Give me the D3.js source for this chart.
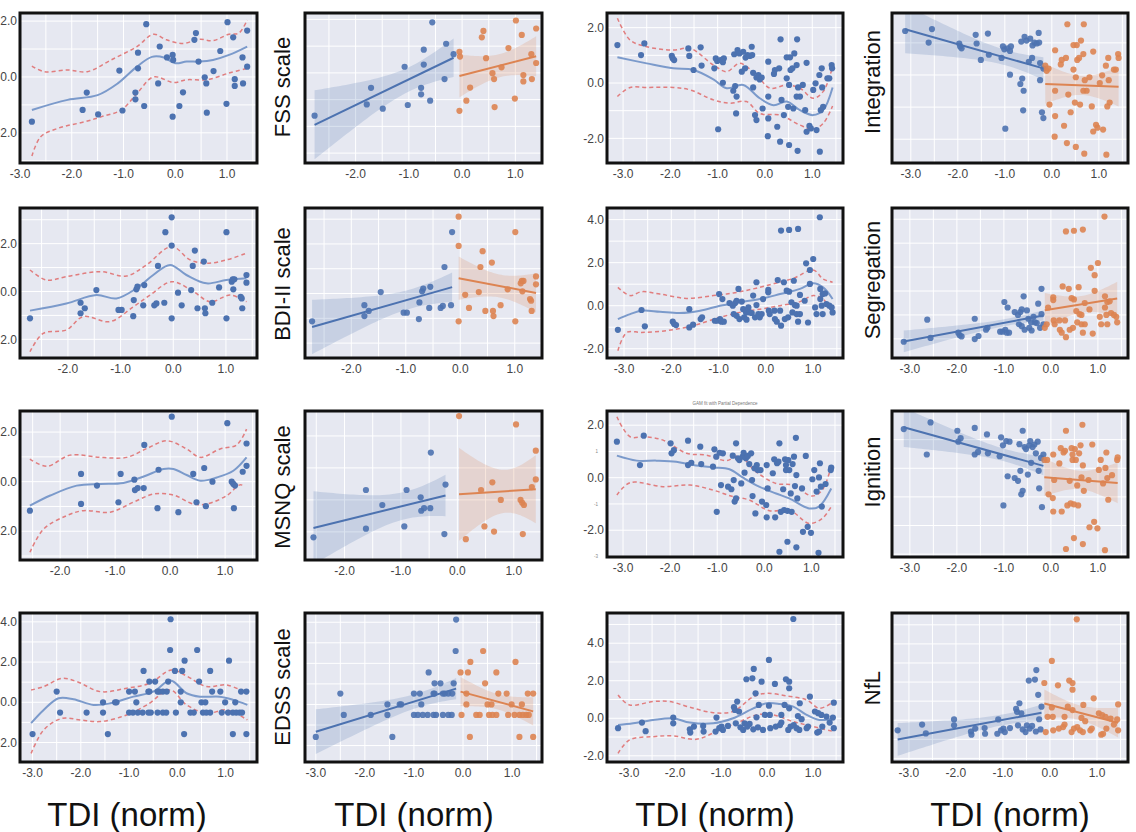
<!DOCTYPE html>
<html><head><meta charset="utf-8">
<script src="https://cdn.jsdelivr.net/npm/d3@7"></script>
<style>body{margin:0;background:#fff}svg{display:block}</style>
</head><body>
<svg id="c" width="1136" height="832"></svg>
<script>
// ---------------- DATA ----------------
const xTitle = "TDI (norm)";
const clinLabels = ["FSS scale","BDI-II scale","MSNQ scale","EDSS scale"];
const netLabels = ["Integration","Segregation","Ignition","NfL"];
const xTickVals = [-3,-2,-1,0,1];
const yTickVals = [-2,0,2,4];
const smallTitle = "GAM fit with Partial Dependence";
const smallTicks = ["1","-1","-3"];
const smallTickVals = [1,-1,-3];

const fss = [[-2.77,-1.6],[-1.79,-1.18],[-1.71,-0.56],[-1.49,-1.34],[-1.08,0.23],[-1.02,-1.2],[-0.77,-0.56],[-0.77,-0.8],[-0.72,0.87],[-0.72,0.31],[-0.6,-1.04],[-0.56,1.89],[-0.33,-0.23],[-0.3,1.09],[-0.16,0.7],[-0.05,0.79],[-0.04,0.61],[-0.05,-1.42],[0.08,-1.04],[0.15,-0.55],[0.37,1.33],[0.4,1.57],[0.45,0.55],[0.57,-0.01],[0.6,-0.23],[0.61,-1.28],[0.74,0.21],[0.87,0.93],[0.99,-0.96],[1.01,1.96],[1.12,1.42],[1.15,-0.08],[1.15,-0.32],[1.3,0.7],[1.31,-0.23],[1.39,1.66],[1.39,0.37]];
const fssFit = [[-2.77,-1.18],[-2.08,-0.82],[-1.5,-0.65],[-1.11,-0.23],[-0.74,0.37],[-0.45,0.72],[-0.22,0.7],[0,0.49],[0.22,0.55],[0.47,0.55],[0.73,0.61],[1.04,0.79],[1.39,1.09]];
const fssHi = [[-2.77,0.39],[-2.53,0.19],[-2.08,0.25],[-1.7,0.19],[-1.24,0.61],[-0.74,1.09],[-0.42,1.53],[-0.17,1.33],[0.15,1.2],[0.47,1.35],[0.73,1.3],[1.04,1.53],[1.23,1.57],[1.39,2.04]];
const fssLo = [[-2.77,-2.83],[-2.6,-2.14],[-2.27,-1.84],[-1.74,-1.6],[-1.42,-1.42],[-1.04,-1.18],[-0.74,-0.59],[-0.42,0],[-0.03,-0.2],[0.22,-0.1],[0.61,-0.1],[1.04,0.14],[1.39,0.31]];

const bdi = [[-2.72,-1.12],[-1.76,-0.47],[-1.76,-0.91],[-1.68,-0.7],[-1.46,0.06],[-1.04,-0.77],[-0.98,-0.77],[-0.76,-1.03],[-0.75,-0.36],[-0.7,0.09],[-0.68,0.2],[-0.57,-0.58],[-0.55,0.27],[-0.36,-0.58],[-0.32,-0.5],[-0.29,1.07],[-0.17,-0.47],[-0.15,2.48],[-0.03,3.1],[-0.03,1.92],[-0.03,-1.12],[0.09,-0.05],[0.16,-0.58],[0.34,0.06],[0.37,1.07],[0.41,1.71],[0.46,-0.7],[0.58,1.25],[0.6,-0.7],[0.61,-0.91],[0.74,-0.47],[0.87,0.17],[1.01,2.48],[1.01,-1.12],[1.11,0.41],[1.13,0.51],[1.16,0.51],[1.14,0.09],[1.28,-0.22],[1.3,-0.29],[1.31,-0.7],[1.39,0.69],[1.39,0.37]];
const bdiFit = [[-2.72,-0.8],[-2.03,-0.5],[-1.46,-0.15],[-1.08,-0.29],[-0.7,0.13],[-0.38,0.69],[-0.06,1.11],[0.25,0.69],[0.63,0.34],[1.01,0.48],[1.39,0.55]];
const bdiHi = [[-2.72,0.9],[-2.41,0.48],[-2.03,0.62],[-1.39,0.83],[-0.89,0.65],[-0.51,1.11],[-0.03,1.88],[0.32,1.32],[0.63,1.18],[1.01,1.32],[1.39,1.6]];
const bdiLo = [[-2.72,-2.52],[-2.47,-1.75],[-2.03,-1.61],[-1.71,-1.05],[-1.2,-1.26],[-0.76,-0.64],[-0.44,-0.15],[-0.03,0.41],[0.38,0],[0.7,-0.43],[1.08,-0.15],[1.39,-0.43]];

const msnq = [[-2.55,-1.17],[-1.62,0.31],[-1.62,-0.9],[-1.33,-0.16],[-0.94,-0.83],[-0.9,0.31],[-0.65,0.08],[-0.64,-0.34],[-0.59,-0.26],[-0.48,-0.26],[-0.47,1.48],[-0.23,-1.07],[-0.21,0.48],[0.03,2.62],[0.15,-1.23],[0.42,0.31],[0.48,-0.83],[0.62,0.55],[0.65,-0.99],[0.77,0],[1.04,2.36],[1.12,0],[1.15,-0.09],[1.18,-0.16],[1.16,-1.07],[1.32,0.4],[1.39,0.64],[1.39,1.54]];
const msnqFit = [[-2.55,-0.97],[-2.18,-0.56],[-1.7,-0.16],[-1.27,-0.09],[-0.85,-0.05],[-0.48,0.21],[-0.12,0.51],[0.06,0.51],[0.3,0.27],[0.55,0.04],[0.85,0.17],[1.15,0.44],[1.39,0.98]];
const msnqHi = [[-2.55,0.91],[-2.24,0.62],[-1.82,1.07],[-1.27,0.98],[-0.79,0.98],[-0.42,1.34],[-0.06,1.65],[0.3,1.32],[0.55,0.98],[0.91,1.32],[1.21,1.48],[1.39,2.12]];
const msnqLo = [[-2.55,-2.85],[-2.3,-1.91],[-1.88,-1.37],[-1.58,-1.17],[-1.09,-1.23],[-0.67,-0.83],[-0.3,-0.5],[0.06,-0.54],[0.42,-0.9],[0.67,-0.9],[1.03,-0.56],[1.27,-0.13],[1.36,-0.19]];

const edss = [[-3.0,-1.58],[-2.5,0.53],[-2.43,-0.51],[-1.88,-0.51],[-1.54,0],[-1.54,-0.51],[-1.44,-1.58],[-1.29,0],[-1.26,0],[-1.0,0.53],[-1.0,-0.51],[-0.92,-0.51],[-0.88,0.53],[-0.85,0],[-0.82,-0.51],[-0.72,-0.51],[-0.7,1.56],[-0.6,0.53],[-0.58,0.53],[-0.6,-0.51],[-0.58,1.03],[-0.55,-0.51],[-0.46,1.03],[-0.41,0.53],[-0.41,-0.51],[-0.37,0.53],[-0.3,0.53],[-0.3,-0.51],[-0.23,-0.51],[-0.22,0.53],[-0.19,1.03],[-0.14,4.13],[-0.15,2.6],[-0.05,1.56],[-0.03,-0.51],[0.07,0],[0.07,0.53],[0.1,1.56],[0.14,-1.58],[0.15,2.07],[0.27,-0.51],[0.34,-0.51],[0.41,2.6],[0.45,1.03],[0.5,0],[0.53,-0.51],[0.58,0],[0.6,-0.51],[0.68,-0.51],[0.68,1.56],[0.72,0.53],[0.89,0.53],[0.92,-0.51],[0.99,0],[1.05,-0.51],[1.07,2.07],[1.15,-0.51],[1.15,-1.58],[1.2,0],[1.22,-0.51],[1.29,-0.51],[1.32,0.53],[1.34,-0.51],[1.43,0.53],[1.43,-1.58]];
const edssFit = [[-3.03,-1.04],[-2.77,-0.38],[-2.46,0.2],[-2.15,0.15],[-1.74,-0.13],[-1.39,-0.05],[-0.91,0.28],[-0.5,0.53],[-0.14,1.08],[0.19,0.45],[0.47,0.28],[0.88,0.28],[1.16,0.12],[1.45,-0.13]];
const edssHi = [[-3.03,0.61],[-2.77,0.78],[-2.39,1.19],[-2.08,1.03],[-1.6,0.53],[-1.05,0.7],[-0.57,0.95],[-0.12,1.61],[0.19,1.31],[0.61,0.78],[1.02,0.86],[1.45,0.45]];
const edssLo = [[-3.03,-2.54],[-2.77,-1.38],[-2.39,-0.8],[-2.01,-0.88],[-1.6,-0.96],[-1.05,-0.63],[-0.63,-0.13],[-0.15,0.61],[0.19,-0.13],[0.61,-0.55],[1.02,-0.38],[1.45,-0.88]];

const integ = [[-3.12,1.37],[-2.62,1.01],[-2.55,1.43],[-1.97,0.98],[-1.95,0.89],[-1.92,0.83],[-1.62,1.25],[-1.6,0.98],[-1.51,0.47],[-1.36,1.29],[-1.34,0.63],[-1.07,0.53],[-1.04,0.89],[-1.01,0.8],[-0.94,0.83],[-0.89,0.75],[-0.87,0.89],[-0.99,-1.67],[-0.89,0.01],[-0.67,-0.28],[-0.65,1.04],[-0.63,-0.11],[-0.6,-0.49],[-0.61,-1.1],[-0.58,1.19],[-0.54,1.07],[-0.49,0.41],[-0.46,1.13],[-0.42,0.53],[-0.41,0.92],[-0.37,1.01],[-0.32,0.98],[-0.28,1.31],[-0.27,1.01],[-0.25,0.37],[-0.25,-0.16],[-0.21,-1.16],[-0.18,0.2],[-0.18,-1.34],[-0.14,0.29],[-0.11,0.13],[-0.07,0.2],[-0.05,-0.92],[0.07,0.77],[0.07,-0.49],[0.07,-1.28],[0.06,-1.92],[0.19,0.33],[0.21,0.47],[0.26,-1.58],[0.3,0.53],[0.32,-2.12],[0.33,1.58],[0.35,-0.61],[0.4,-1.16],[0.46,0.17],[0.46,0.93],[0.49,-0.86],[0.51,-2.24],[0.51,-0.07],[0.53,0.93],[0.54,0.47],[0.58,0.53],[0.6,-0.92],[0.62,1.07],[0.67,0.65],[0.67,-0.49],[0.68,1.58],[0.69,-2.45],[0.7,-0.16],[0.74,-0.49],[0.8,-0.07],[0.85,-0.98],[0.88,0.73],[0.88,-1.76],[0.94,-1.55],[0.97,-1.64],[1.02,-0.25],[1.07,-0.01],[1.09,-1.7],[1.15,0.29],[1.16,-2.48],[1.18,-0.98],[1.2,0.53],[1.21,-0.16],[1.23,-0.86],[1.32,0.17],[1.36,0.17],[1.41,0.65],[1.42,0.53]];
const integFit = [[-3.12,0.93],[-2.5,0.71],[-1.94,0.53],[-1.51,0.47],[-1.09,0.13],[-0.81,-0.19],[-0.46,-0.07],[-0.11,-0.55],[0.18,-0.8],[0.46,-0.67],[0.74,-0.98],[1.02,-1.16],[1.23,-0.98],[1.43,-0.16]];
const integHi = [[-3.12,2.34],[-2.85,1.55],[-2.5,1.31],[-1.94,1.19],[-1.58,1.25],[-1.09,0.65],[-0.81,0.41],[-0.53,0.71],[-0.18,0.29],[0.11,-0.19],[0.46,-0.07],[0.74,-0.19],[1.02,-0.55],[1.23,-0.31],[1.43,0.59]];
const integLo = [[-3.12,-0.49],[-2.85,-0.16],[-2.5,-0.16],[-1.94,-0.16],[-1.58,-0.25],[-1.09,-0.61],[-0.74,-0.73],[-0.39,-0.67],[-0.11,-1.1],[0.32,-1.16],[0.74,-1.52],[1.02,-1.67],[1.23,-1.46],[1.43,-0.83]];

const seg = [[-3.13,-1.12],[-2.63,-0.2],[-2.56,-0.96],[-1.97,-0.74],[-1.94,-0.85],[-1.9,-0.9],[-1.62,-0.16],[-1.62,-1.01],[-1.54,-0.88],[-1.38,-0.62],[-1.35,-0.54],[-1.08,-0.7],[-1.03,-0.7],[-0.99,0.54],[-0.97,-0.62],[-0.94,-0.74],[-0.92,0.31],[-0.89,-0.74],[-0.77,0.12],[-0.7,0],[-0.68,-0.39],[-0.65,0.12],[-0.62,0.23],[-0.62,-0.47],[-0.58,0.78],[-0.56,-0.62],[-0.51,0.19],[-0.48,-0.16],[-0.46,-0.54],[-0.42,-0.31],[-0.41,-0.65],[-0.37,-0.08],[-0.34,-0.31],[-0.3,-0.34],[-0.27,0.47],[-0.23,-0.54],[-0.2,1.09],[-0.2,0.03],[-0.16,-0.39],[-0.13,-0.54],[-0.09,-0.39],[-0.06,0.31],[0.05,0.74],[0.05,0.62],[0.06,-0.23],[0.08,-0.39],[0.18,-0.23],[0.19,-0.62],[0.23,-0.74],[0.25,1.19],[0.3,-0.23],[0.32,3.49],[0.32,-0.93],[0.38,1.09],[0.4,-0.62],[0.44,0.7],[0.47,-0.54],[0.49,3.52],[0.49,0.65],[0.54,0.16],[0.56,-0.31],[0.59,1.16],[0.61,0.03],[0.65,-0.39],[0.65,0],[0.68,3.57],[0.68,-0.74],[0.72,-0.39],[0.72,0.5],[0.82,0.23],[0.85,1.97],[0.89,-0.78],[0.93,1.66],[0.93,1.01],[1.0,2.17],[1.04,-0.08],[1.07,-0.39],[1.14,4.11],[1.15,0.78],[1.15,0.31],[1.18,0],[1.2,0.54],[1.2,-0.39],[1.25,0.57],[1.28,0.08],[1.34,0],[1.39,-0.08],[1.41,-0.31]];
const segFit = [[-3.13,-0.62],[-2.87,-0.39],[-2.63,-0.23],[-2.24,-0.28],[-1.82,-0.34],[-1.39,-0.23],[-0.97,0],[-0.55,0.16],[-0.13,0.31],[0.3,0.54],[0.72,0.78],[1.0,1.04],[1.21,0.85],[1.41,0.31]];
const segHi = [[-3.13,0.85],[-2.87,0.47],[-2.63,0.65],[-2.24,0.54],[-1.68,0.34],[-1.11,0.47],[-0.69,0.59],[-0.27,0.78],[0.15,1.01],[0.58,1.27],[1.0,1.66],[1.21,1.24],[1.41,1.09]];
const segLo = [[-3.13,-2.09],[-2.94,-1.24],[-2.63,-1.24],[-2.1,-1.16],[-1.54,-0.93],[-0.97,-0.54],[-0.55,-0.31],[-0.13,-0.16],[0.3,0],[0.72,0.19],[1.0,0.47],[1.21,0.31],[1.41,-0.39]];

const ign = [[-3.13,1.37],[-2.64,0.48],[-2.56,1.6],[-1.99,1.31],[-1.97,0.93],[-1.92,1.05],[-1.62,1.41],[-1.62,0.48],[-1.55,0.57],[-1.36,1.18],[-1.34,0.52],[-1.09,0.42],[-1.06,1.08],[-1.02,0.8],[-1.01,-1.3],[-0.95,0.95],[-0.92,-0.28],[-0.88,0.93],[-0.77,-0.34],[-0.7,-0.44],[-0.67,0.84],[-0.65,-0.09],[-0.63,-0.91],[-0.6,1.31],[-0.6,-0.79],[-0.56,0.74],[-0.53,0.67],[-0.49,-0.22],[-0.46,0.8],[-0.44,0.95],[-0.42,0.19],[-0.39,0.74],[-0.35,0.83],[-0.32,0.52],[-0.28,0.93],[-0.26,-0.09],[-0.25,-0.7],[-0.21,0.36],[-0.19,-1.36],[-0.16,0.48],[-0.14,0.29],[-0.08,0.29],[-0.05,-0.91],[0.04,-1.04],[0.05,-1.51],[0.07,-0.41],[0.05,0.48],[0.18,0.17],[0.21,0.7],[0.23,-1.51],[0.27,0.55],[0.3,0.61],[0.32,1.31],[0.32,-2.82],[0.35,-1.3],[0.4,-0.44],[0.42,-1.23],[0.44,0.7],[0.46,0.48],[0.46,0.29],[0.49,-1.26],[0.49,-2.44],[0.51,0.67],[0.53,0.29],[0.56,-0.6],[0.58,-1.3],[0.6,0.52],[0.63,0.8],[0.65,-0.32],[0.67,1.52],[0.68,-2.65],[0.68,0.1],[0.7,-0.79],[0.8,-0.41],[0.82,-2.06],[0.88,0.83],[0.92,-1.87],[0.99,-2.1],[1.02,-0.06],[1.06,0.29],[1.11,-0.53],[1.15,-2.86],[1.16,0.01],[1.18,0.55],[1.2,-0.34],[1.22,-1.1],[1.3,-0.24],[1.41,0.29],[1.42,0.38]];
const ignFit = [[-3.13,0.84],[-2.71,0.65],[-2.29,0.65],[-1.87,0.61],[-1.51,0.48],[-1.09,0.39],[-0.74,0.32],[-0.46,0.01],[-0.11,-0.34],[0.25,-0.6],[0.53,-0.79],[0.95,-1.17],[1.16,-1.1],[1.42,-0.41]];
const ignHi = [[-3.13,2.32],[-2.85,1.56],[-2.54,1.56],[-2.15,1.43],[-1.65,0.93],[-1.23,0.86],[-0.81,0.65],[-0.53,0.83],[-0.18,0.23],[0.25,-0.22],[0.6,-0.28],[1.02,-0.7],[1.23,-0.47],[1.42,0.44]];
const ignLo = [[-3.13,-0.66],[-2.85,-0.19],[-2.15,-0.34],[-1.58,-0.28],[-1.09,-0.47],[-0.67,-0.72],[-0.32,-0.85],[0.11,-1.26],[0.53,-1.23],[0.95,-1.74],[1.23,-1.55],[1.42,-1.1]];

const nfl = [[-3.24,-0.53],[-2.72,-0.23],[-2.64,-0.69],[-2.04,0.04],[-2.04,-0.27],[-1.68,-0.59],[-1.67,-0.76],[-1.59,-0.44],[-1.39,-0.41],[-1.38,-0.71],[-1.1,0.04],[-1.12,-0.71],[-1.04,-0.53],[-0.99,-0.44],[-0.96,-0.62],[-0.85,-0.41],[-0.72,0.59],[-0.7,0.44],[-0.68,-0.27],[-0.65,0.89],[-0.61,0.36],[-0.58,-0.48],[-0.52,-0.62],[-0.49,-0.27],[-0.45,2.08],[-0.43,-0.44],[-0.38,-0.3],[-0.32,2.13],[-0.3,-0.59],[-0.29,2.63],[-0.25,1.33],[-0.23,0.05],[-0.2,-0.48],[-0.18,0.71],[-0.12,1.95],[-0.09,-0.62],[-0.05,0.18],[0.04,3.11],[0.04,0.67],[0.06,0.18],[0.07,-0.53],[0.17,1.83],[0.19,-0.44],[0.28,-0.36],[0.31,0.18],[0.31,-0.23],[0.41,2.08],[0.38,0.71],[0.46,-0.62],[0.48,1.95],[0.48,0.53],[0.48,1.6],[0.51,-0.44],[0.57,5.29],[0.58,-0.36],[0.64,-0.53],[0.67,0.12],[0.7,-0.62],[0.71,0.8],[0.75,-0.05],[0.86,-0.53],[0.89,-0.44],[0.93,1.15],[1.04,0.36],[1.09,-0.76],[1.11,0.27],[1.13,-0.71],[1.18,0.18],[1.2,-0.44],[1.29,0.09],[1.36,-0.23],[1.43,0.04],[1.45,0.83],[1.45,-0.53]];
const nflFit = [[-3.24,-0.36],[-2.91,-0.27],[-2.48,-0.09],[-2.04,0],[-1.68,-0.23],[-1.17,-0.27],[-0.74,0],[-0.3,0.53],[-0.01,0.8],[0.28,0.76],[0.57,0.62],[0.86,0.18],[1.14,-0.09],[1.45,0]];
const nflHi = [[-3.24,1.24],[-2.99,0.71],[-2.48,0.89],[-2.12,0.89],[-1.68,0.59],[-1.17,0.3],[-0.74,0.36],[-0.3,1.15],[-0.01,1.33],[0.42,1.19],[0.86,0.98],[1.14,0.53],[1.45,0.89]];
const nflLo = [[-3.24,-1.87],[-2.99,-1.15],[-2.48,-0.98],[-2.04,-0.94],[-1.54,-1.12],[-1.03,-0.62],[-0.59,-0.18],[-0.23,0.18],[0.13,0.18],[0.57,-0.18],[1.0,-0.44],[1.45,-0.71]];

const splitAt = [-0.1,-0.1,-0.1,-0.1, -0.15,-0.15,-0.15,-0.15];

// ---------------- LAYOUT ----------------
const colX = [[20,257],[305,542],[607,843],[892,1128]];
const rowY = [[13,163],[208,358],[411,560],[613,762]];
const xDom = [
 [[-3.0,1.58],[-2.95,1.5],[-3.34,1.65],[-3.4,1.62]],
 [[-2.91,1.59],[-2.85,1.5],[-3.36,1.63],[-3.38,1.64]],
 [[-2.73,1.58],[-2.7,1.5],[-3.34,1.67],[-3.38,1.64]],
 [[-3.26,1.65],[-3.22,1.61],[-3.48,1.65],[-3.36,1.66]]];
const yDom = [
 [[-3.08,2.29],[-3.37,2.24],[-2.89,2.53],[-2.74,1.93]],
 [[-2.78,3.49],[-2.6,3.45],[-2.43,4.54],[-1.8,4.47]],
 [[-3.16,2.85],[-1.88,2.78],[-3.02,2.54],[-3.1,2.0]],
 [[-2.97,4.44],[-2.8,4.45],[-2.33,5.61],[-2.19,5.62]]];

const rowsData = [
 {c:[fss,fssFit,fssLo,fssHi], n:[integ,integFit,integLo,integHi]},
 {c:[bdi,bdiFit,bdiLo,bdiHi], n:[seg,segFit,segLo,segHi]},
 {c:[msnq,msnqFit,msnqLo,msnqHi], n:[ign,ignFit,ignLo,ignHi]},
 {c:[edss,edssFit,edssLo,edssHi], n:[nfl,nflFit,nflLo,nflHi]}];

const BLUE="#4C72B0", ORANGE="#DD8452", BG="#e6e8f1";
const FONT="Liberation Sans, Arial, sans-serif";
const svg = d3.select("#c");
const fmt = d => d.toFixed(1);

function linfit(pts){
  const n=pts.length, mx=d3.mean(pts,d=>d[0]), my=d3.mean(pts,d=>d[1]);
  let sxx=0,sxy=0; pts.forEach(([x,y])=>{sxx+=(x-mx)**2; sxy+=(x-mx)*(y-my);});
  const b=sxy/sxx, a=my-b*mx;
  let sse=0; pts.forEach(([x,y])=>{sse+=(y-a-b*x)**2;});
  const s=Math.sqrt(sse/(n-2)), t=1.96+2.5/(n-2);
  return {f:x=>a+b*x, ci:x=>t*s*Math.sqrt(1/n+(x-mx)**2/sxx), x0:d3.min(pts,d=>d[0]), x1:d3.max(pts,d=>d[0])};
}

let clipId=0;
const scales = {};
function panel(r,c){
  const [x0,x1]=colX[c], [y0,y1]=rowY[r];
  const yy1 = (r===2 && c>=2) ? 557 : y1;
  const x = d3.scaleLinear().domain(xDom[r][c]).range([x0,x1]);
  const y = d3.scaleLinear().domain(yDom[r][c]).range([yy1,y0]);
  scales[r+"_"+c] = {x,y,x0,x1,y0,y1:yy1};
  const g = svg.append("g");
  const id="clip"+(clipId++);
  g.append("clipPath").attr("id",id).append("rect").attr("x",x0).attr("y",y0).attr("width",x1-x0).attr("height",yy1-y0);
  g.append("rect").attr("x",x0).attr("y",y0).attr("width",x1-x0).attr("height",yy1-y0).attr("fill",BG);
  const inner = g.append("g").attr("clip-path",`url(#${id})`);
  const gx = d3.range(Math.ceil(xDom[r][c][0]*2)/2, xDom[r][c][1], 0.5);
  const gy = d3.range(Math.ceil(yDom[r][c][0]), yDom[r][c][1], 1);
  inner.selectAll(".gx").data(gx).join("line").attr("x1",x).attr("x2",x).attr("y1",y0).attr("y2",yy1).attr("stroke","#fff").attr("stroke-width",1);
  inner.selectAll(".gy").data(gy).join("line").attr("y1",y).attr("y2",y).attr("x1",x0).attr("x2",x1).attr("stroke","#fff").attr("stroke-width",1);
  const set = c<2 ? rowsData[r].c : rowsData[r].n;
  const pts = set[0];
  const line = d3.line().x(d=>x(d[0])).y(d=>y(d[1])).curve(d3.curveCatmullRom.alpha(0.5));
  if(c===0||c===2){
    inner.append("path").attr("d",line(set[1])).attr("fill","none").attr("stroke","#7b9acb").attr("stroke-width",2);
    [set[2],set[3]].forEach(b=>inner.append("path").attr("d",line(b)).attr("fill","none")
       .attr("stroke","#df6a6a").attr("stroke-opacity",0.85).attr("stroke-width",1.5).attr("stroke-dasharray","4,3"));
    inner.selectAll("circle").data(pts).join("circle").attr("cx",d=>x(d[0])).attr("cy",d=>y(d[1])).attr("r",3.1).attr("fill",BLUE);
  } else {
    const th = splitAt[r + (c===3?4:0)];
    const groups = [[pts.filter(d=>d[0]<th),BLUE],[pts.filter(d=>d[0]>=th),ORANGE]];
    groups.forEach(([gp,col])=>{
      inner.append("g").selectAll("circle").data(gp).join("circle").attr("cx",d=>x(d[0])).attr("cy",d=>y(d[1])).attr("r",3.1).attr("fill",col).attr("fill-opacity",0.9);
    });
    groups.forEach(([gp,col])=>{
      const fit=linfit(gp);
      const xs=d3.range(0,41).map(i=>fit.x0+(fit.x1-fit.x0)*i/40);
      inner.append("path").attr("d",d3.area().x(v=>x(v)).y0(v=>y(fit.f(v)-fit.ci(v))).y1(v=>y(fit.f(v)+fit.ci(v)))(xs))
        .attr("fill",col).attr("fill-opacity",0.2);
      inner.append("line").attr("x1",x(fit.x0)).attr("x2",x(fit.x1)).attr("y1",y(fit.f(fit.x0))).attr("y2",y(fit.f(fit.x1)))
        .attr("stroke",col).attr("stroke-width",2);
    });
  }
  g.append("rect").attr("x",x0).attr("y",y0).attr("width",x1-x0).attr("height",yy1-y0).attr("fill","none").attr("stroke","#111").attr("stroke-width",3);
  g.selectAll(".xt").data(xTickVals.filter(v=>v>=xDom[r][c][0]&&v<=xDom[r][c][1])).join("text")
    .attr("x",x).attr("y",yy1+15).attr("text-anchor","middle").attr("font-size",12)
    .attr("font-family",FONT).attr("fill","#444").text(fmt);
  if(c===0||c===2){
    g.selectAll(".yt").data(yTickVals.filter(v=>v>=yDom[r][c][0]&&v<=yDom[r][c][1])).join("text")
      .attr("x",x0-3).attr("y",y).attr("dy","0.35em").attr("text-anchor","end").attr("font-size",12)
      .attr("font-family",FONT).attr("fill","#444").text(fmt);
  }
}
for(let r=0;r<4;r++) for(let c=0;c<4;c++) panel(r,c);

// tiny artefact texts on the Ignition partial-dependence panel
const ps = scales["2_2"];
svg.append("text").attr("x",(ps.x0+ps.x1)/2).attr("y",ps.y0-6).attr("text-anchor","middle")
  .attr("font-size",4.5).attr("font-family",FONT).attr("fill","#777").text(smallTitle);
svg.selectAll(".st").data(smallTickVals).join("text").attr("x",ps.x0-9).attr("y",v=>ps.y(v)).attr("dy","0.35em")
  .attr("text-anchor","end").attr("font-size",4.5).attr("font-family",FONT).attr("fill","#888").text((v,i)=>smallTicks[i]);

// axis titles
const labelY = [87,284,487,687];
clinLabels.forEach((t,i)=>svg.append("text").attr("transform",`translate(290,${labelY[i]}) rotate(-90)`)
  .attr("text-anchor","middle").attr("font-size",22).attr("font-family",FONT).attr("fill","#111").text(t));
netLabels.forEach((t,i)=>svg.append("text").attr("transform",`translate(880,${[82,280,472,688][i]}) rotate(-90)`)
  .attr("text-anchor","middle").attr("font-size",22).attr("font-family",FONT).attr("fill","#111").text(t));
[127,414,715,1010].forEach(cx=>svg.append("text").attr("x",cx).attr("y",826).attr("text-anchor","middle")
  .attr("font-size",33).attr("font-family",FONT).attr("fill","#111").text(xTitle));
</script>
</body></html>
